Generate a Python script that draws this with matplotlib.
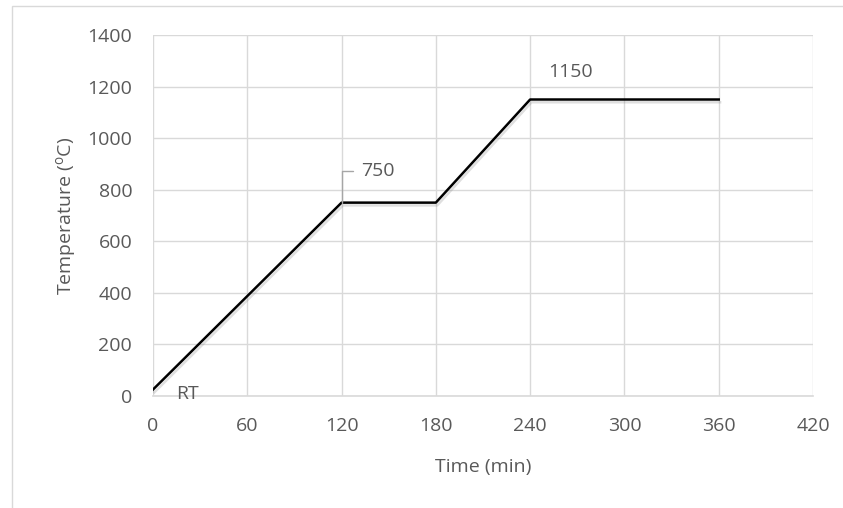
import matplotlib.pyplot as plt
import matplotlib.patheffects as pe
from matplotlib.patches import Rectangle

# data
time_min = [0, 120, 180, 240, 360]
temp_c = [25, 750, 750, 1150, 1150]
x_ticks = [0, 60, 120, 180, 240, 300, 360, 420]
y_ticks = [0, 200, 400, 600, 800, 1000, 1200, 1400]

txt = "#595959"
grid_c = "#d9d9d9"
fs = 14
plt.rcParams["font.family"] = ["Open Sans", "DejaVu Sans"]

fig = plt.figure(figsize=(8.43, 5.08), dpi=100)
ax = fig.add_axes([0.1815, 0.2205, 0.9644 - 0.1815, 0.931 - 0.2205])

# chart border (left and top edges visible)
fig.patches.append(Rectangle((12 / 843, -0.1), 1.2, 1 - 6 / 508 + 0.1,
                             transform=fig.transFigure, fill=False,
                             edgecolor=grid_c, linewidth=1))

ax.plot(time_min, temp_c, color="black", linewidth=1.8,
        path_effects=[pe.SimpleLineShadow(offset=(1, -2), shadow_color="gray", alpha=0.25),
                      pe.Normal()], zorder=3)

ax.set_xlim(0, 420)
ax.set_ylim(0, 1400)
ax.set_xticks(x_ticks)
ax.set_yticks(y_ticks)
ax.grid(True, color=grid_c, linewidth=1)
ax.set_axisbelow(True)
for s in ["top", "right", "left"]:
    ax.spines[s].set_visible(False)
ax.spines["bottom"].set_color(grid_c)
ax.spines["bottom"].set_linewidth(1.2)
ax.tick_params(length=0, labelsize=fs, labelcolor=txt)
ax.tick_params(axis="x", pad=15)
ax.tick_params(axis="y", pad=15)

ax.set_xlabel("Time (min)", fontsize=fs, color=txt, labelpad=17)
ax.set_ylabel(r"Temperature ($\mathregular{^{o}}$C)", fontsize=fs, color=txt, labelpad=7)

# point labels
ax.annotate("RT", (time_min[0], temp_c[0]), xytext=(25, -3), textcoords="offset points",
            ha="center", va="center", fontsize=fs, color=txt)
ax.annotate("750", (time_min[1], temp_c[1]), xytext=(14, 23), textcoords="offset points",
            ha="left", va="center", fontsize=fs, color=txt,
            arrowprops=dict(arrowstyle="-", color="#a6a6a6", linewidth=1,
                            connectionstyle="angle,angleA=0,angleB=90,rad=0",
                            shrinkA=4, shrinkB=0))
ax.annotate("1150", (time_min[3], temp_c[3]), xytext=(29, 20), textcoords="offset points",
            ha="center", va="center", fontsize=fs, color=txt)

fig.savefig("out.png", dpi=100)
